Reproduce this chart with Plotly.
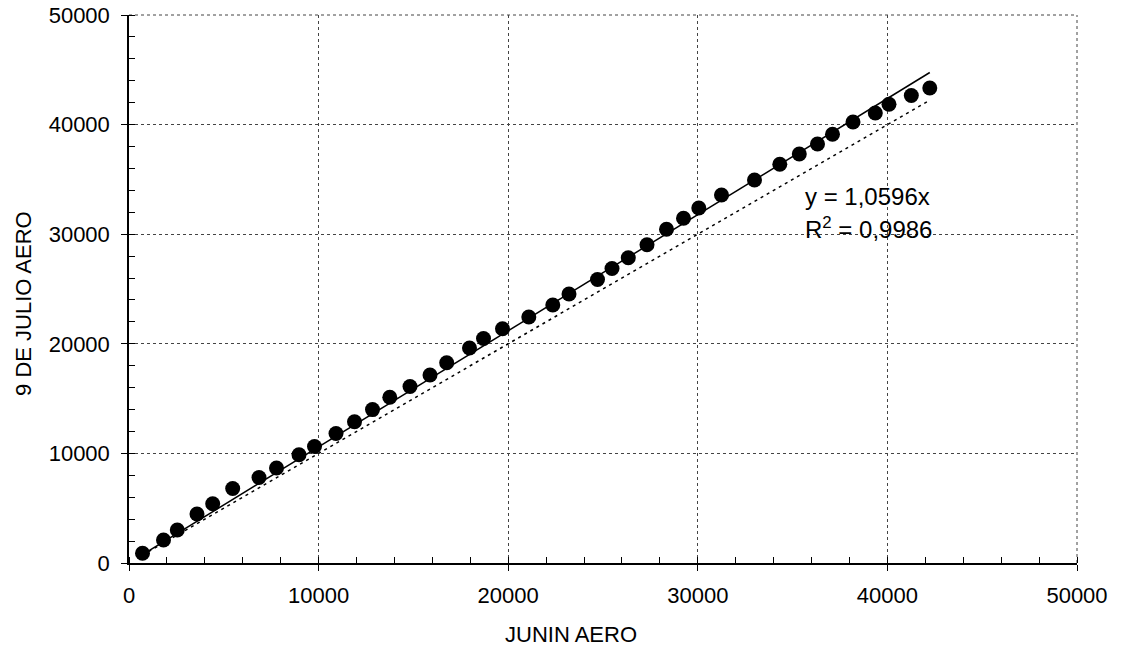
import plotly.graph_objects as go

junin = [712, 1820, 2547, 3586, 4415, 5469, 6857, 7780, 8966, 9784,
         10918, 11894, 12843, 13755, 14821, 15876, 16756, 17959, 18697, 19699,
         21087, 22352, 23207, 24710, 25475, 26334, 27321, 28349, 29246, 30053,
         31250, 32991, 34325, 35353, 36313, 37104, 38186, 39362, 40084, 41261, 42236]
julio = [885, 2099, 3011, 4471, 5401, 6797, 7801, 8668, 9872, 10630,
         11816, 12883, 13996, 15119, 16104, 17153, 18276, 19617, 20484, 21369,
         22445, 23540, 24544, 25867, 26870, 27856, 29042, 30447, 31451, 32391,
         33577, 34945, 36378, 37318, 38230, 39115, 40237, 41058, 41852, 42655, 43339]
slope = 1.0596
r2_text = "0,9986"
x_title = "JUNIN AERO"
y_title = "9 DE JULIO AERO"

xmin, xmax = min(junin), max(junin)
fit_x = [xmin, xmax]
fit_y = [slope * v for v in fit_x]
one_y = [v for v in fit_x]

FONT = "Liberation Sans, Arial, sans-serif"
TS = 22
RANGE = [0, 50000]
GRIDC = "#444444"
fig = go.Figure()
fig.add_trace(go.Scatter(x=fit_x, y=one_y, mode="lines",
                         line=dict(color="black", width=1.5, dash="3px,4px"),
                         showlegend=False, hoverinfo="skip"))
fig.add_trace(go.Scatter(x=fit_x, y=fit_y, mode="lines",
                         line=dict(color="black", width=1.5),
                         showlegend=False, hoverinfo="skip"))
fig.add_trace(go.Scatter(x=junin, y=julio, mode="markers",
                         marker=dict(color="black", size=15),
                         showlegend=False))
fig.add_trace(go.Scatter(x=[0], y=[0], xaxis="x2", yaxis="y2", mode="markers",
                         marker=dict(opacity=0), showlegend=False, hoverinfo="skip"))

grid = dict(showgrid=True, gridcolor=GRIDC, griddash="3px,3px", gridwidth=1)
common = dict(range=RANGE, dtick=10000, tick0=0, zeroline=False, automargin=False,
              showline=True, linecolor="black", linewidth=1.5, tickformat="d",
              ticks="outside", ticklen=6, tickcolor="black", tickwidth=1,
              ticklabeloverflow="allow",
              tickfont=dict(family=FONT, size=TS, color="black"),
              minor=dict(dtick=2000, ticks="inside", ticklen=6, tickcolor="black", showgrid=False),
              **grid)

fig.update_layout(
    width=1122, height=651,
    margin=dict(l=129, r=45, t=15, b=88),
    paper_bgcolor="white", plot_bgcolor="white",
    font=dict(family=FONT, size=TS, color="black"),
    xaxis=dict(ticklabelstandoff=6, **common),
    yaxis=dict(ticklabelstandoff=7, **common),
    xaxis2=dict(overlaying="x", matches="x", range=RANGE, dtick=10000, tick0=0,
                showgrid=False, zeroline=False, showticklabels=False,
                ticks="inside", ticklen=6, tickcolor="black", side="bottom", anchor="y"),
    yaxis2=dict(overlaying="y", matches="y", range=RANGE, dtick=10000, tick0=0,
                showgrid=False, zeroline=False, showticklabels=False,
                ticks="inside", ticklen=6, tickcolor="black", side="left", anchor="x"),
    shapes=[
        dict(type="line", xref="paper", yref="paper", x0=0, x1=1, y0=1, y1=1,
             line=dict(color=GRIDC, width=1, dash="3px,3px"), layer="below"),
        dict(type="line", xref="paper", yref="paper", x0=1, x1=1, y0=0, y1=1,
             line=dict(color=GRIDC, width=1, dash="3px,3px"), layer="below"),
    ],
    annotations=[
        dict(x=35550, y=33400, xref="x", yref="y", text="y = 1,0596x",
             showarrow=False, xanchor="left", yanchor="middle",
             font=dict(family=FONT, size=24, color="black")),
        dict(x=35550, y=30600, xref="x", yref="y", text="R<sup>2</sup> = " + r2_text,
             showarrow=False, xanchor="left", yanchor="middle",
             font=dict(family=FONT, size=24, color="black")),
        dict(x=0.4662, y=-0.1296, xref="paper", yref="paper", text=x_title,
             showarrow=False, xanchor="center", yanchor="middle",
             font=dict(family=FONT, size=TS, color="black")),
        dict(x=-0.1108, y=0.4745, xref="paper", yref="paper", text=y_title,
             showarrow=False, xanchor="center", yanchor="middle", textangle=-90,
             font=dict(family=FONT, size=TS, color="black")),
    ],
)

fig.write_html("out.html", config={"displayModeBar": False},
               post_script="document.body.style.margin='0';")
